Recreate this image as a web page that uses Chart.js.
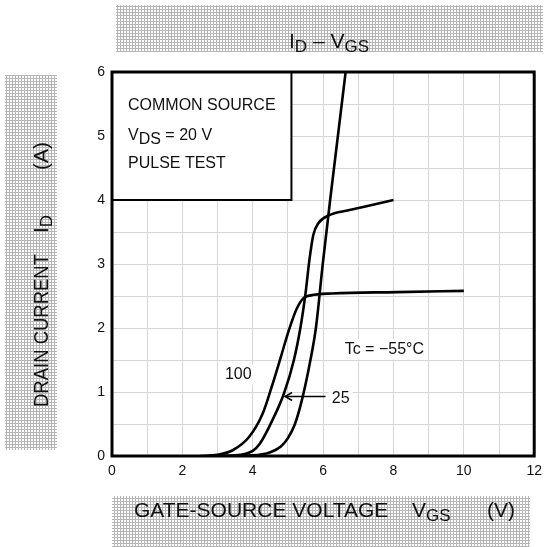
<!DOCTYPE html>
<html><head><meta charset="utf-8">
<script src="https://cdn.jsdelivr.net/npm/chart.js@4.4.1/dist/chart.umd.min.js"></script>
<style>html,body{margin:0;padding:0;background:#fff;} canvas{display:block;}</style>
</head><body>
<canvas id="c" width="549" height="547"></canvas>
<script>
// ---- data ----
const vgsM55 = [3.0, 4.0, 4.5, 4.8, 5.0, 5.2, 5.4, 5.64, 5.8, 5.99, 6.2, 6.42, 6.64];
const idM55  = [0.0, 0.01, 0.06, 0.15, 0.28, 0.5, 0.88, 1.5, 2.02, 3.0, 4.0, 5.0, 6.0];
const vgs25  = [2.8, 3.5, 4.0, 4.2, 4.56, 4.89, 5.17, 5.36, 5.5, 5.61, 5.72, 5.87, 6.16, 6.72, 7.2, 8.0];
const id25   = [0.0, 0.01, 0.08, 0.19, 0.56, 0.98, 1.5, 2.02, 2.54, 3.06, 3.45, 3.64, 3.76, 3.84, 3.9, 4.0];
const vgs100 = [2.5, 3.0, 3.43, 3.9, 4.28, 4.55, 4.8, 5.03, 5.25, 5.45, 5.65, 6.25, 8.1, 10.0];
const id100  = [0.0, 0.02, 0.09, 0.3, 0.66, 1.1, 1.55, 1.97, 2.3, 2.47, 2.51, 2.54, 2.56, 2.58];
const xTickLabels = [0, 2, 4, 6, 8, 10, 12];
const yTickLabels = [0, 1, 2, 3, 4, 5, 6];
const seriesNames = ['Tc = −55°C', '25', '100'];

function pts(xs, ys){ return xs.map((x,i)=>({x:x, y:ys[i]})); }

const FONT = '"Liberation Sans", Arial, sans-serif';

// hatch pattern for the label boxes
function hatch(ctx){
  const c = document.createElement('canvas'); c.width = 3; c.height = 3;
  const g = c.getContext('2d');
  g.fillStyle = '#ffffff'; g.fillRect(0,0,3,3);
  g.fillStyle = '#b6b6b6'; g.fillRect(0,0,3,1); g.fillRect(0,0,1,3);
  return ctx.createPattern(c, 'repeat');
}

function drawRich(ctx, pieces, x, y, size, subSize, subDy){
  let cx = x;
  for (const p of pieces){
    ctx.font = (p.sub ? subSize : size) + 'px ' + FONT;
    ctx.fillText(p.t, cx, y + (p.sub ? subDy : 0));
    cx += ctx.measureText(p.t).width;
  }
  return cx;
}
function richWidth(ctx, pieces, size, subSize){
  let w = 0;
  for (const p of pieces){ ctx.font = (p.sub ? subSize : size) + 'px ' + FONT; w += ctx.measureText(p.t).width; }
  return w;
}

const decor = {
  id: 'decor',
  beforeDraw(chart){
    const ctx = chart.ctx;
    ctx.save();
    ctx.fillStyle = '#fff'; ctx.fillRect(0,0,chart.width,chart.height);
    const pat = hatch(ctx);
    ctx.fillStyle = pat;
    ctx.fillRect(116, 5, 427, 47);   // title box
    ctx.fillRect(5, 75, 52, 375);    // y label box
    ctx.fillRect(112, 496, 418, 51); // x label box
    ctx.fillStyle = '#111'; ctx.textBaseline = 'alphabetic'; ctx.textAlign = 'left';
    // title
    const title = [{t:'I'},{t:'D',sub:true},{t:' – '},{t:'V'},{t:'GS',sub:true}];
    const tw = richWidth(ctx, title, 21, 17);
    drawRich(ctx, title, 329 - tw/2, 48, 21, 17, 4);
    // x label
    drawRich(ctx, [{t:'GATE-SOURCE VOLTAGE'}], 134, 517, 21, 17, 4);
    drawRich(ctx, [{t:'V'},{t:'GS',sub:true}], 412, 517, 21, 17, 4);
    drawRich(ctx, [{t:'(V)'}], 487, 517, 21, 17, 4);
    // y label (rotated)
    ctx.translate(48, 0); ctx.rotate(-Math.PI/2);
    ctx.save();
    ctx.font = '21px ' + FONT;
    const dcw = ctx.measureText('DRAIN CURRENT').width;
    const k = Math.min(1, 153 / dcw);
    ctx.translate(-407, 0); ctx.scale(k, 1);
    ctx.fillText('DRAIN CURRENT', 0, 0);
    ctx.restore();
    drawRich(ctx, [{t:'I'},{t:'D',sub:true}], -233, 0, 21, 17, 4);
    drawRich(ctx, [{t:'(A)'}], -170, 0, 21, 17, 4);
    ctx.restore();
  },
  beforeDatasetsDraw(chart){
    const ctx = chart.ctx, xs = chart.scales.x, ys = chart.scales.y;
    ctx.save();
    // condition box
    const bx0 = xs.getPixelForValue(0), bx1 = xs.getPixelForValue(5.1);
    const by0 = ys.getPixelForValue(6), by1 = ys.getPixelForValue(4);
    ctx.fillStyle = '#fff'; ctx.fillRect(bx0, by0, bx1-bx0, by1-by0);
    ctx.strokeStyle = '#000'; ctx.lineWidth = 2; ctx.strokeRect(bx0, by0, bx1-bx0, by1-by0);
    ctx.fillStyle = '#111'; ctx.textBaseline = 'middle';
    drawRich(ctx, [{t:'COMMON SOURCE'}], 128, 106, 16, 16, 0);
    drawRich(ctx, [{t:'V'},{t:'DS',sub:true},{t:' = 20 V'}], 128, 136, 16, 16, 4);
    drawRich(ctx, [{t:'PULSE TEST'}], 128, 164, 16, 16, 0);
    // series labels
    const labs = [
      {t: seriesNames[0], x: 7.74, y: 1.67},
      {t: seriesNames[2], x: 3.59, y: 1.27},
      {t: seriesNames[1], x: 6.5, y: 0.9}
    ];
    ctx.font = '16px ' + FONT; ctx.textAlign = 'center';
    for (const l of labs){
      const px = xs.getPixelForValue(l.x), py = ys.getPixelForValue(l.y);
      const w = ctx.measureText(l.t).width;
      ctx.fillStyle = '#fff'; ctx.fillRect(px - w/2 - 3, py - 10, w + 6, 20);
      ctx.fillStyle = '#111'; ctx.fillText(l.t, px, py);
    }
    ctx.restore();
  },
  afterDatasetsDraw(chart){
    const ctx = chart.ctx, xs = chart.scales.x, ys = chart.scales.y, a = chart.chartArea;
    ctx.save();
    // arrow to 25 curve
    const ax0 = xs.getPixelForValue(6.07), ax1 = xs.getPixelForValue(4.92), ay = ys.getPixelForValue(0.93);
    ctx.strokeStyle = '#000'; ctx.lineWidth = 1.5;
    ctx.beginPath(); ctx.moveTo(ax0, ay); ctx.lineTo(ax1, ay); ctx.stroke();
    ctx.beginPath(); ctx.moveTo(ax1 + 7, ay - 4); ctx.lineTo(ax1, ay); ctx.lineTo(ax1 + 7, ay + 4); ctx.stroke();
    // frame
    ctx.lineWidth = 3; ctx.strokeStyle = '#000';
    ctx.strokeRect(a.left, a.top, a.right - a.left, a.bottom - a.top);
    ctx.restore();
  }
};

const lineStyle = {borderColor:'#000', borderWidth:2.6, pointRadius:0, fill:false, cubicInterpolationMode:'monotone', showLine:true};

new Chart(document.getElementById('c'), {
  type: 'scatter',
  data: { datasets: [
    Object.assign({label: seriesNames[0], data: pts(vgsM55, idM55)}, lineStyle),
    Object.assign({label: seriesNames[1], data: pts(vgs25, id25)}, lineStyle),
    Object.assign({label: seriesNames[2], data: pts(vgs100, id100)}, lineStyle)
  ]},
  options: {
    responsive: false, animation: false, devicePixelRatio: 1,
    layout: { padding: {left: 0, right: 12, top: 72, bottom: 0} },
    plugins: { legend: {display:false}, tooltip: {enabled:false}, title: {display:false} },
    scales: {
      x: { type:'linear', min:0, max:12,
        afterFit(s){ s.height = 91; },
        border: {display:false},
        grid: {color:'#d6d6d6', lineWidth:1, drawTicks:false},
        ticks: {stepSize:1, autoSkip:false, maxRotation:0, padding:7, color:'#111',
          font:{family:FONT, size:14},
          callback: v => xTickLabels.includes(v) ? String(v) : ''}
      },
      y: { type:'linear', min:0, max:6,
        afterFit(s){ s.width = 112; },
        border: {display:false},
        grid: {color:'#d6d6d6', lineWidth:1, drawTicks:false},
        ticks: {stepSize:0.5, autoSkip:false, padding:7, color:'#111',
          font:{family:FONT, size:14},
          callback: v => yTickLabels.includes(v) ? String(v) : ''}
      }
    }
  },
  plugins: [decor]
});
</script>
</body></html>
